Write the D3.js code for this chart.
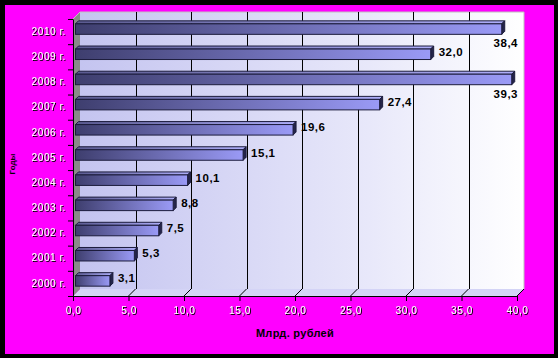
<!DOCTYPE html>
<html>
<head>
<meta charset="utf-8">
<script src="https://cdn.jsdelivr.net/npm/d3@7"></script>
<style>
  html, body { margin: 0; padding: 0; background: #000; }
  svg { display: block; }
</style>
</head>
<body>
<svg id="chart" width="558" height="358"></svg>
<script>
const years = ["2000 г.", "2001 г.", "2002 г.", "2003 г.", "2004 г.", "2005 г.", "2006 г.", "2007 г.", "2008 г.", "2009 г.", "2010 г."];
const values = [3.1, 5.3, 7.5, 8.8, 10.1, 15.1, 19.6, 27.4, 39.3, 32.0, 38.4];
const xTicks = [0, 5, 10, 15, 20, 25, 30, 35, 40];
const xTitle = "Млрд. рублей";
const yTitle = "Годы";

const svg = d3.select("#chart");
const W = 558, H = 358;
const depth = 7;      // 3D wall depth offset
const bOff = 2.5;     // bar depth offset
const bDepth = 3;     // bar thickness in depth

const x = d3.scaleLinear().domain([0, 40]).range([73, 517]);
const y = d3.scaleBand().domain(years).range([296, 19]).paddingInner(0).paddingOuter(0);
const yB = d3.scaleLinear().domain([0, years.length]).range([296, 19]);

const fmt = v => d3.format(".1f")(v).replace(".", ",");

const defs = svg.append("defs");
const wallGrad = defs.append("linearGradient").attr("id", "wallGrad")
  .attr("x1", "0").attr("x2", "1").attr("y1", "0").attr("y2", "0");
wallGrad.append("stop").attr("offset", "0%").attr("stop-color", "#c4c4f0");
wallGrad.append("stop").attr("offset", "65%").attr("stop-color", "#e8e8fa");
wallGrad.append("stop").attr("offset", "100%").attr("stop-color", "#ffffff");

const barGrad = defs.append("linearGradient").attr("id", "barGrad")
  .attr("x1", "0").attr("x2", "1").attr("y1", "0").attr("y2", "0");
barGrad.append("stop").attr("offset", "0%").attr("stop-color", "#3e3e6e");
barGrad.append("stop").attr("offset", "100%").attr("stop-color", "#9a9af6");

const topGrad = defs.append("linearGradient").attr("id", "topGrad")
  .attr("x1", "0").attr("x2", "1").attr("y1", "0").attr("y2", "0");
topGrad.append("stop").attr("offset", "0%").attr("stop-color", "#5a5a90");
topGrad.append("stop").attr("offset", "100%").attr("stop-color", "#aeaefa");

const shadow = defs.append("filter").attr("id", "shadow")
  .attr("x", "-20%").attr("y", "-20%").attr("width", "150%").attr("height", "150%");
shadow.append("feDropShadow").attr("dx", 1).attr("dy", 1).attr("stdDeviation", 0)
  .attr("flood-color", "#000").attr("flood-opacity", 1);

// Background: black frame + magenta
svg.append("rect").attr("x", 0).attr("y", 0).attr("width", W).attr("height", H).attr("fill", "#000");
svg.append("rect").attr("x", 5).attr("y", 5).attr("width", 549).attr("height", 349).attr("fill", "#ff00ff");

const x0 = x(0), x1 = x(40), yTop = yB(years.length), yBot = yB(0);

// Back wall
svg.append("rect")
  .attr("x", x0 + depth).attr("y", yTop - depth)
  .attr("width", x1 - x0).attr("height", yBot - yTop)
  .attr("fill", "url(#wallGrad)");
// Floor
svg.append("path")
  .attr("d", `M${x0},${yBot}L${x0 + depth},${yBot - depth}L${x1 + depth},${yBot - depth}L${x1},${yBot}Z`)
  .attr("fill", "#d4d4f6");
// Side wall
svg.append("path")
  .attr("d", `M${x0},${yTop}L${x0 + depth},${yTop - depth}L${x0 + depth},${yBot - depth}L${x0},${yBot}Z`)
  .attr("fill", "#8a8a8a");

// Back wall right edge & top edge
svg.append("path")
  .attr("d", `M${x0},${yTop}L${x0 + depth},${yTop - depth}L${x1 + depth},${yTop - depth}L${x1 + depth},${yBot - depth}L${x1},${yBot}`)
  .attr("fill", "none").attr("stroke", "#c0c0c0").attr("stroke-width", 1);

// Gridlines on back wall and floor
const gridVals = xTicks.filter(t => t > 0 && t < 40);
svg.append("g").selectAll("line.g").data(gridVals).join("line")
  .attr("x1", d => Math.round(x(d) + depth) + 0.5).attr("x2", d => Math.round(x(d) + depth) + 0.5)
  .attr("y1", yTop - depth).attr("y2", yBot - depth)
  .attr("stroke", "#000").attr("stroke-width", 1);
svg.append("g").selectAll("line.f").data(xTicks.filter(t => t > 0)).join("line")
  .attr("x1", d => x(d)).attr("y1", yBot)
  .attr("x2", d => x(d) + depth).attr("y2", yBot - depth)
  .attr("stroke", "#000").attr("stroke-width", 1);

// Bars
const bars = svg.append("g");
years.forEach((yr, i) => {
  const v = values[i];
  const bh = 10.5;
  const cy = y(yr) + y.bandwidth() / 2 - bOff;
  const fx0 = x(0) + bOff, fx1 = x(v) + bOff;
  const ft = cy - bh / 2, fb = cy + bh / 2;
  // top face
  bars.append("path")
    .attr("d", `M${fx0},${ft}L${fx0 + bDepth},${ft - bDepth}L${fx1 + bDepth},${ft - bDepth}L${fx1},${ft}Z`)
    .attr("fill", "url(#topGrad)").attr("stroke", "#1c1c3c").attr("stroke-width", 1).attr("stroke-linejoin", "round");
  // right face
  bars.append("path")
    .attr("d", `M${fx1},${ft}L${fx1 + bDepth},${ft - bDepth}L${fx1 + bDepth},${fb - bDepth}L${fx1},${fb}Z`)
    .attr("fill", "#24244a").attr("stroke", "#1c1c3c").attr("stroke-width", 1).attr("stroke-linejoin", "round");
  // front face
  bars.append("rect")
    .attr("x", fx0).attr("y", ft).attr("width", fx1 - fx0).attr("height", bh)
    .attr("fill", "url(#barGrad)").attr("stroke", "#1c1c3c").attr("stroke-width", 1);

  // value label
  const lab = bars.append("text")
    .attr("font-family", "Liberation Sans, Arial, sans-serif")
    .attr("font-weight", "bold").attr("font-size", "11.5px")
    .attr("letter-spacing", "0.5px")
    .attr("fill", "#000")
    .attr("dominant-baseline", "central")
    .text(fmt(v));
  if (v > 36) {
    lab.attr("x", x(40) + 1).attr("y", fb + 9).attr("text-anchor", "end");
  } else {
    lab.attr("x", fx1 + bDepth + 5).attr("y", cy - 2.5).attr("text-anchor", "start");
  }
});

// Axes
const axisFont = "Liberation Sans, Arial, sans-serif";
const gx = svg.append("g").attr("transform", `translate(0,${yBot})`)
  .call(d3.axisBottom(x).tickValues(xTicks).tickFormat(fmt).tickSize(5).tickPadding(6).tickSizeOuter(0));
gx.select(".domain").attr("stroke", "#000");
gx.selectAll(".tick line").attr("stroke", "#000");
gx.selectAll("text").attr("font-family", axisFont).attr("font-size", "10px")
  .attr("letter-spacing", "0.6px").attr("fill", "#fff").attr("filter", "url(#shadow)");

const gyTicks = svg.append("g").attr("transform", `translate(${x0},0)`)
  .call(d3.axisLeft(yB).tickValues(d3.range(years.length + 1)).tickFormat("").tickSize(5).tickSizeOuter(0));
gyTicks.select(".domain").attr("stroke", "#000");
gyTicks.selectAll(".tick line").attr("stroke", "#000");

const gy = svg.append("g").attr("transform", `translate(${x0},0)`)
  .call(d3.axisLeft(y).tickSize(0).tickPadding(7));
gy.select(".domain").remove();
gy.selectAll("text").attr("font-family", axisFont).attr("font-size", "10px")
  .attr("letter-spacing", "0.6px").attr("fill", "#fff").attr("filter", "url(#shadow)");

// Axis titles
svg.append("text")
  .attr("x", (x0 + x1) / 2).attr("y", 333)
  .attr("text-anchor", "middle").attr("dominant-baseline", "central")
  .attr("font-family", axisFont).attr("font-weight", "bold").attr("font-size", "11px")
  .attr("letter-spacing", "0.3px")
  .attr("fill", "#000").text(xTitle);

svg.append("text")
  .attr("transform", `translate(12,164) rotate(-90)`)
  .attr("text-anchor", "middle").attr("dominant-baseline", "central")
  .attr("font-family", axisFont).attr("font-weight", "bold").attr("font-size", "8px")
  .attr("fill", "#000").text(yTitle);
</script>
</body>
</html>
